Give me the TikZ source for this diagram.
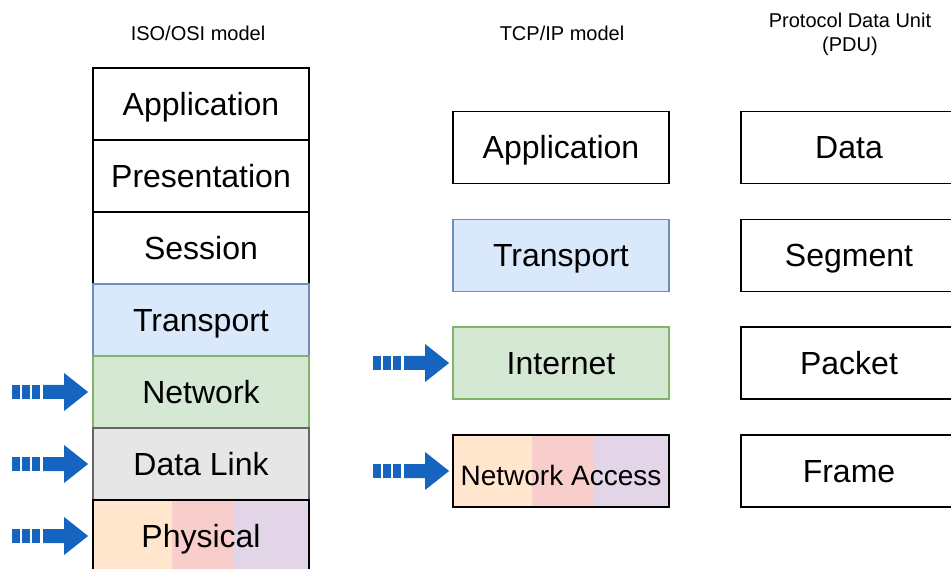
\documentclass[tikz,border=0pt]{standalone}
\usepackage{fontspec}
\setmainfont{Liberation Sans}
\definecolor{blueFill}{HTML}{DAE8FC}
\definecolor{blueLine}{HTML}{6C8EBF}
\definecolor{greenFill}{HTML}{D5E8D4}
\definecolor{greenLine}{HTML}{82B366}
\definecolor{grayFill}{HTML}{E6E6E6}
\definecolor{grayLine}{HTML}{666666}
\definecolor{stripeA}{HTML}{FFE6CC}
\definecolor{stripeB}{HTML}{F8CECC}
\definecolor{stripeC}{HTML}{E1D5E7}
\definecolor{arrowBlue}{HTML}{1565C0}
\tikzset{
  layer/.style={draw=black, line width=1.8pt, minimum width=216pt, minimum height=72pt,
    inner sep=0pt, text height=23pt, text depth=0pt, font=\fontsize{32}{38}\selectfont},
  bluelayer/.style={layer, fill=blueFill, draw=blueLine},
  greenlayer/.style={layer, fill=greenFill, draw=greenLine},
  graylayer/.style={layer, fill=grayFill, draw=grayLine},
  tristripe/.style={path picture={
      \fill[stripeA] (path picture bounding box.north west) rectangle ([xshift=79pt]path picture bounding box.south west);
      \fill[stripeB] ([xshift=79pt]path picture bounding box.north west) rectangle ([xshift=141pt]path picture bounding box.south west);
      \fill[stripeC] ([xshift=141pt]path picture bounding box.north west) rectangle (path picture bounding box.south east);
  }},
  title/.style={font=\fontsize{20}{24}\selectfont, align=center, inner sep=0pt},
  pics/blockarrow/.style={code={
      % dashed tail blocks, shaft and head; (0,0) is the tip
      \fill[arrowBlue] (-76,-7) rectangle (-68,7);
      \fill[arrowBlue] (-66,-7) rectangle (-58,7);
      \fill[arrowBlue] (-56,-7) rectangle (-48,7);
      \fill[arrowBlue] (-45,-7) -- (-24,-7) -- (-24,-19) -- (0,0) -- (-24,19) -- (-24,7) -- (-45,7) -- cycle;
  }}
}
\begin{document}
\begin{tikzpicture}[x=1pt, y=-1pt]
\path[use as bounding box, clip] (0,0) rectangle (951,569);

% column headings
\node[title] (hOSI) at (198,33) {ISO/OSI model};
\node[title] (hTCP) at (562,33) {TCP/IP model};
\node[title] (hPDU) at (850,34) {Protocol Data Unit\\(PDU)};

% ISO/OSI stack
\node[layer] (osiApp) at (201,104) {Application};
\node[layer] (osiPres) at (201,176) {Presentation};
\node[layer] (osiSess) at (201,248) {Session};
\node[bluelayer] (osiTrans) at (201,320) {Transport};
\node[greenlayer] (osiNet) at (201,392) {Network};
\node[graylayer] (osiLink) at (201,464) {Data Link};
\node[layer, tristripe] (osiPhys) at (201,536) {Physical};

% TCP/IP model
\node[layer] (tcpApp) at (561,147.5) {Application};
\node[bluelayer] (tcpTrans) at (561,255.5) {Transport};
\node[greenlayer] (tcpNet) at (561,363) {Internet};
\node[layer, tristripe, text height=20pt, font=\fontsize{28}{34}\selectfont] (tcpAcc) at (561,471) {\raisebox{-4pt}{Network Access}};

% protocol data units
\node[layer] (pduData) at (849,147.5) {Data};
\node[layer] (pduSeg) at (849,255.5) {Segment};
\node[layer] (pduPkt) at (849,363) {Packet};
\node[layer] (pduFrm) at (849,471) {Frame};

% pointers to the addressed layers
\pic at ([xshift=-4pt]osiNet.west) {blockarrow};
\pic at ([xshift=-4pt]osiLink.west) {blockarrow};
\pic at ([xshift=-4pt]osiPhys.west) {blockarrow};
\pic at ([xshift=-3pt]tcpNet.west) {blockarrow};
\pic at ([xshift=-3pt]tcpAcc.west) {blockarrow};
\end{tikzpicture}
\end{document}
